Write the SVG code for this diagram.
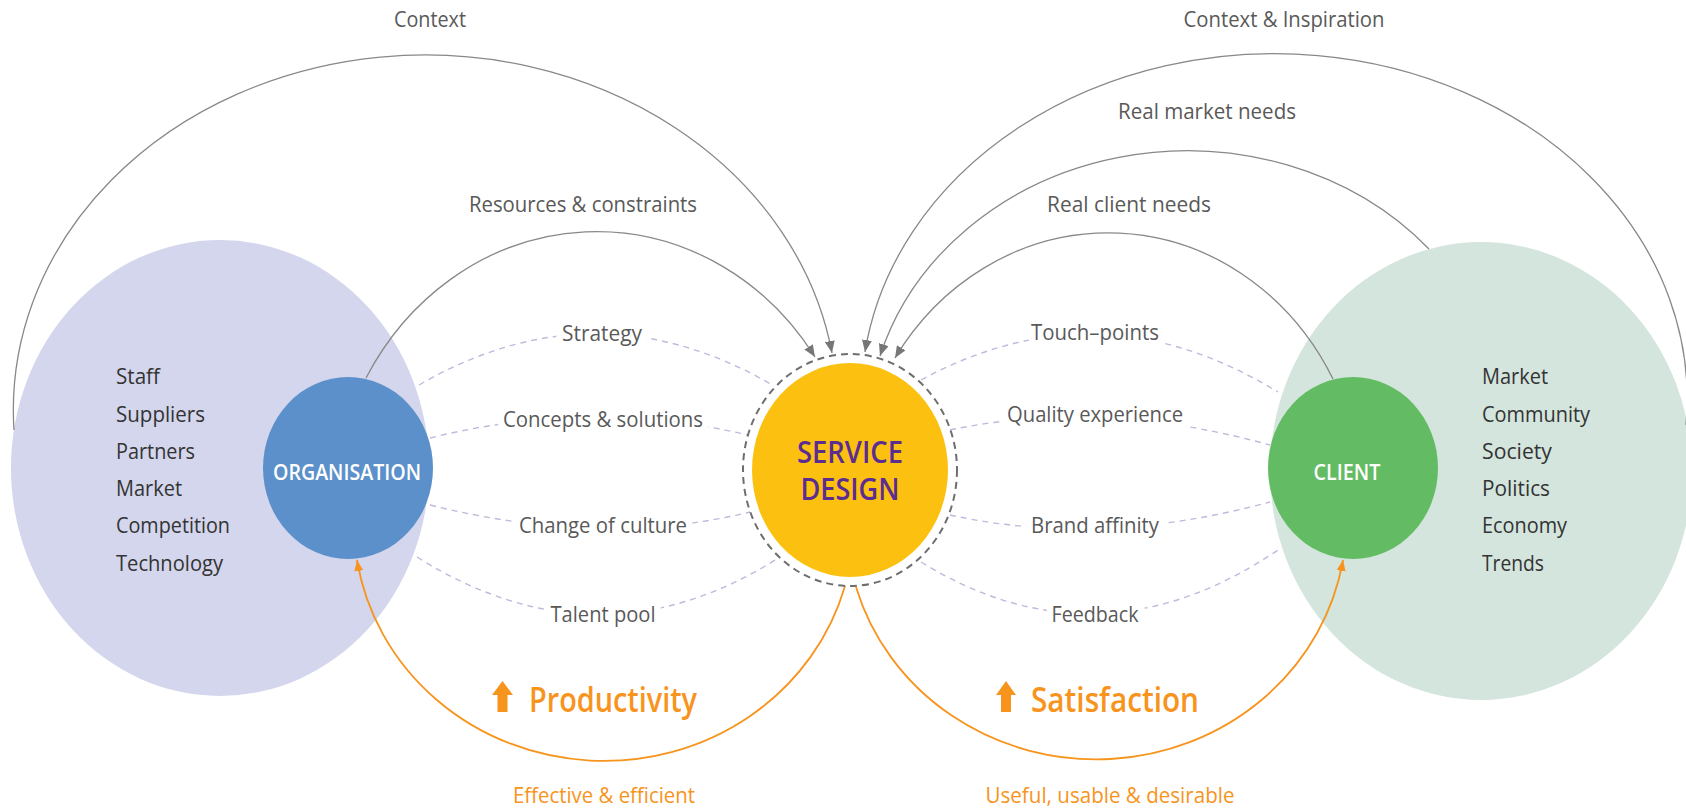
<svg xmlns="http://www.w3.org/2000/svg" width="1686" height="809" viewBox="0 0 1686 809">
  <style>
    .lbl { font-family: "Open Sans", "Noto Sans", sans-serif; font-size: 21px; fill: #595959; }
    .halo { paint-order: stroke; stroke: #ffffff; stroke-width: 14px; stroke-linejoin: round; }
    .list { font-family: "Open Sans", "Noto Sans", sans-serif; font-size: 22px; fill: #333333; }
    .node-lbl { font-family: "Open Sans", "Noto Sans", sans-serif; font-size: 21px; font-weight: 600; fill: #ffffff; }
    .sd { font-family: "Open Sans", "Noto Sans", sans-serif; font-size: 30px; font-weight: 600; fill: #5C2D91; }
    .big-or { font-family: "Open Sans", "Noto Sans", sans-serif; font-size: 34px; font-weight: 600; fill: #F7941D; }
    .sm-or { font-family: "Open Sans", "Noto Sans", sans-serif; font-size: 21px; fill: #F7941D; }
    .arc { fill: none; stroke: #888888; stroke-width: 1.3; marker-end: url(#grayArrow); }
    .dash { fill: none; stroke: #C3B7DD; stroke-width: 1.4; stroke-dasharray: 6 5; }
    .orange { fill: none; stroke: #F7941D; stroke-width: 1.8; marker-end: url(#orangeArrow); }
  </style>
  <defs>
    <marker id="grayArrow" markerUnits="userSpaceOnUse" markerWidth="12" markerHeight="10" refX="12" refY="5" orient="auto">
      <path d="M0,0 L12,5 L0,10 Z" fill="#777777"/>
    </marker>
    <marker id="orangeArrow" markerUnits="userSpaceOnUse" markerWidth="11" markerHeight="9" refX="11" refY="4.5" orient="auto">
      <path d="M0,0 L11,4.5 L0,9 Z" fill="#F7941D"/>
    </marker>
  </defs>

  <rect x="0" y="0" width="1686" height="809" fill="#ffffff"/>

  <!-- Outer context nodes -->
  <g id="organisation-context">
    <ellipse cx="220" cy="468" rx="209" ry="228" fill="#D3D6EC"/>
    <text class="list" x="116" y="384" textLength="44" lengthAdjust="spacingAndGlyphs">Staff</text>
    <text class="list" x="116" y="422" textLength="89" lengthAdjust="spacingAndGlyphs">Suppliers</text>
    <text class="list" x="116" y="459" textLength="79" lengthAdjust="spacingAndGlyphs">Partners</text>
    <text class="list" x="116" y="496" textLength="66" lengthAdjust="spacingAndGlyphs">Market</text>
    <text class="list" x="116" y="533" textLength="114" lengthAdjust="spacingAndGlyphs">Competition</text>
    <text class="list" x="116" y="571" textLength="107" lengthAdjust="spacingAndGlyphs">Technology</text>
  </g>

  <g id="client-context">
    <ellipse cx="1481" cy="471" rx="211" ry="229" fill="#D3E5DD"/>
    <text class="list" x="1482" y="384" textLength="66" lengthAdjust="spacingAndGlyphs">Market</text>
    <text class="list" x="1482" y="422" textLength="108" lengthAdjust="spacingAndGlyphs">Community</text>
    <text class="list" x="1482" y="459" textLength="70" lengthAdjust="spacingAndGlyphs">Society</text>
    <text class="list" x="1482" y="496" textLength="68" lengthAdjust="spacingAndGlyphs">Politics</text>
    <text class="list" x="1482" y="533" textLength="85" lengthAdjust="spacingAndGlyphs">Economy</text>
    <text class="list" x="1482" y="571" textLength="62" lengthAdjust="spacingAndGlyphs">Trends</text>
  </g>

  <!-- Connectors -->
  <g id="connectors">
    <!-- gray arcs into service design -->
    <path class="arc" d="M14,430 A412,355 0 0 1 832,353"/>
    <path class="arc" d="M366,378 A265,289 0 0 1 815,357"/>
    <path class="arc" d="M1686,425 A413,345 0 0 0 865,352"/>
    <path class="arc" d="M1429,249 A320,285 0 0 0 880,356"/>
    <path class="arc" d="M1333,379 A255,277 0 0 0 895,358"/>

    <!-- dashed exchanges -->
    <path class="dash" d="M419,385 Q597,282 774,386"/>
    <path class="dash" d="M430,438 Q590,398 748,435"/>
    <path class="dash" d="M430,505 Q603,548 750,512"/>
    <path class="dash" d="M417,557 Q600,672 780,557"/>
    <path class="dash" d="M921,380 Q1100,283 1278,392"/>
    <path class="dash" d="M950,430 Q1100,398 1270,445"/>
    <path class="dash" d="M950,515 Q1100,548 1270,502"/>
    <path class="dash" d="M921,562 Q1100,672 1281,548"/>

    <!-- orange outcome arcs -->
    <path class="orange" d="M845,586 A250,238 0 0 1 357,560"/>
    <path class="orange" d="M856,587 A250,238 0 0 0 1343,560"/>

    <!-- connector labels -->
    <text class="lbl" x="430" y="27" text-anchor="middle" textLength="72" lengthAdjust="spacingAndGlyphs">Context</text>
    <text class="lbl" x="1284" y="27" text-anchor="middle" textLength="201" lengthAdjust="spacingAndGlyphs">Context &amp; Inspiration</text>
    <text class="lbl" x="1207" y="119" text-anchor="middle" textLength="178" lengthAdjust="spacingAndGlyphs">Real market needs</text>
    <text class="lbl" x="583" y="212" text-anchor="middle" textLength="228" lengthAdjust="spacingAndGlyphs">Resources &amp; constraints</text>
    <text class="lbl" x="1129" y="212" text-anchor="middle" textLength="164" lengthAdjust="spacingAndGlyphs">Real client needs</text>

    <text class="lbl halo" x="602" y="341" text-anchor="middle" textLength="80" lengthAdjust="spacingAndGlyphs">Strategy</text>
    <text class="lbl halo" x="603" y="427" text-anchor="middle" textLength="200" lengthAdjust="spacingAndGlyphs">Concepts &amp; solutions</text>
    <text class="lbl halo" x="603" y="533" text-anchor="middle" textLength="168" lengthAdjust="spacingAndGlyphs">Change of culture</text>
    <text class="lbl halo" x="603" y="622" text-anchor="middle" textLength="105" lengthAdjust="spacingAndGlyphs">Talent pool</text>
    <text class="lbl halo" x="1095" y="340" text-anchor="middle" textLength="128" lengthAdjust="spacingAndGlyphs">Touch–points</text>
    <text class="lbl halo" x="1095" y="422" text-anchor="middle" textLength="176" lengthAdjust="spacingAndGlyphs">Quality experience</text>
    <text class="lbl halo" x="1095" y="533" text-anchor="middle" textLength="128" lengthAdjust="spacingAndGlyphs">Brand affinity</text>
    <text class="lbl halo" x="1095" y="622" text-anchor="middle" textLength="87" lengthAdjust="spacingAndGlyphs">Feedback</text>

    <polygon points="502.5,681 513,695 507.5,695 507.5,712 497.5,712 497.5,695 492,695" fill="#F7941D"/>
    <text class="big-or" x="529" y="712" textLength="168" lengthAdjust="spacingAndGlyphs">Productivity</text>
    <polygon points="1006,681 1016,695 1011,695 1011,712 1001,712 1001,695 996,695" fill="#F7941D"/>
    <text class="big-or" x="1031" y="712" textLength="168" lengthAdjust="spacingAndGlyphs">Satisfaction</text>
    <text class="sm-or" x="604" y="803" text-anchor="middle" textLength="182" lengthAdjust="spacingAndGlyphs">Effective &amp; efficient</text>
    <text class="sm-or" x="1110" y="803" text-anchor="middle" textLength="249" lengthAdjust="spacingAndGlyphs">Useful, usable &amp; desirable</text>
  </g>

  <!-- Main nodes -->
  <g id="organisation">
    <ellipse cx="348" cy="468" rx="85" ry="91" fill="#5B90CA"/>
    <text class="node-lbl" x="347" y="480" text-anchor="middle" textLength="148" lengthAdjust="spacingAndGlyphs">ORGANISATION</text>
  </g>

  <g id="service-design">
    <ellipse cx="850" cy="470" rx="107" ry="116" fill="none" stroke="#6E6E6E" stroke-width="2" stroke-dasharray="7 5"/>
    <ellipse cx="850" cy="470" rx="98" ry="107" fill="#FCC010"/>
    <text class="sd" x="850" y="463" text-anchor="middle" textLength="106" lengthAdjust="spacingAndGlyphs">SERVICE</text>
    <text class="sd" x="850" y="500" text-anchor="middle" textLength="99" lengthAdjust="spacingAndGlyphs">DESIGN</text>
  </g>

  <g id="client">
    <ellipse cx="1353" cy="468" rx="85" ry="91" fill="#63BC63"/>
    <text class="node-lbl" x="1347" y="480" text-anchor="middle" textLength="67" lengthAdjust="spacingAndGlyphs">CLIENT</text>
  </g>
</svg>
